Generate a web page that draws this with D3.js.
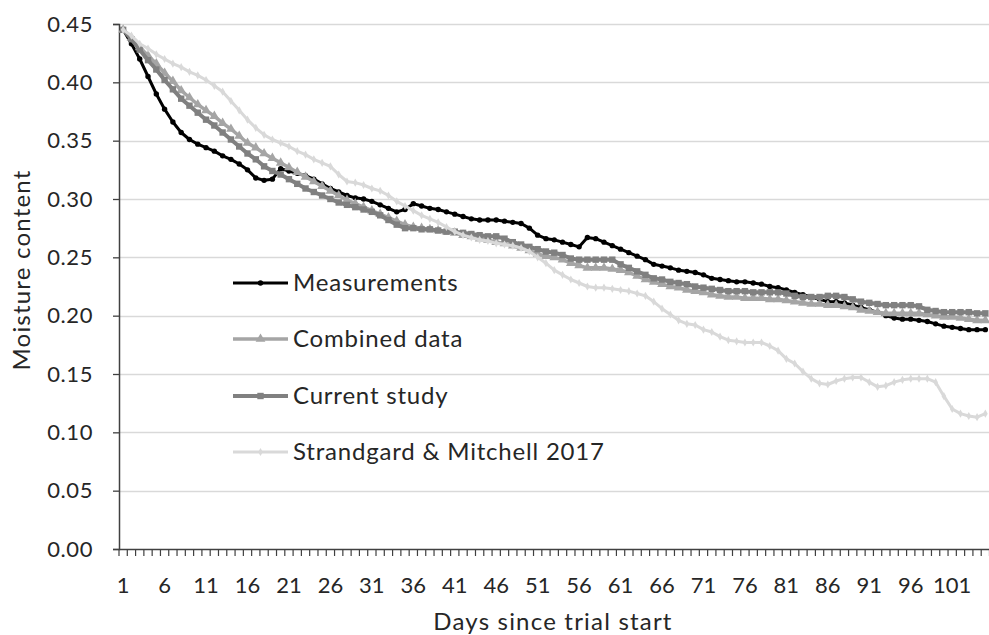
<!DOCTYPE html>
<html>
<head>
<meta charset="utf-8">
<script src="https://cdn.jsdelivr.net/npm/d3@7"></script>
<style>
  html, body { margin: 0; padding: 0; background: #fff; }
  svg text { font-family: Lato, "Open Sans", sans-serif; fill: #262626; }
</style>
</head>
<body>
<svg id="chart" width="989" height="635"></svg>
<script>
// Days since trial start (category axis)
const days = d3.range(1, 106);

const measurements = [
  0.445,0.433,0.420,0.405,0.390,0.377,0.366,0.357,0.351,0.347,
  0.344,0.341,0.337,0.334,0.330,0.325,0.318,0.316,0.317,0.326,
  0.324,0.322,0.320,0.317,0.313,0.309,0.306,0.303,0.301,0.300,
  0.298,0.295,0.292,0.289,0.291,0.296,0.294,0.292,0.291,0.289,
  0.287,0.285,0.283,0.282,0.282,0.282,0.281,0.280,0.279,0.275,
  0.269,0.266,0.265,0.263,0.261,0.259,0.267,0.266,0.263,0.260,
  0.257,0.254,0.251,0.248,0.244,0.2425,0.241,0.239,0.238,0.237,
  0.235,0.232,0.231,0.230,0.229,0.229,0.228,0.227,0.225,0.224,
  0.222,0.220,0.218,0.216,0.214,0.212,0.212,0.211,0.209,0.207,
  0.205,0.203,0.200,0.198,0.197,0.197,0.196,0.195,0.193,0.191,
  0.190,0.189,0.188,0.188,0.188
];

const combinedData = [
  0.445,0.438,0.430,0.423,0.416,0.408,0.401,0.393,0.387,0.381,
  0.376,0.371,0.365,0.360,0.354,0.348,0.344,0.339,0.335,0.331,
  0.327,0.323,0.319,0.315,0.311,0.307,0.303,0.299,0.296,0.293,
  0.290,0.287,0.284,0.281,0.278,0.276,0.275,0.274,0.273,0.272,
  0.271,0.269,0.268,0.266,0.265,0.263,0.262,0.260,0.258,0.256,
  0.253,0.251,0.250,0.248,0.245,0.243,0.241,0.241,0.241,0.240,
  0.239,0.237,0.234,0.231,0.229,0.227,0.225,0.224,0.222,0.221,
  0.220,0.218,0.217,0.216,0.216,0.215,0.215,0.215,0.214,0.214,
  0.213,0.212,0.211,0.210,0.210,0.209,0.209,0.208,0.207,0.205,
  0.204,0.203,0.202,0.202,0.202,0.202,0.202,0.201,0.200,0.199,
  0.199,0.198,0.197,0.196,0.196
];

const currentStudy = [
  0.445,0.437,0.428,0.419,0.411,0.402,0.394,0.386,0.380,0.374,
  0.368,0.363,0.357,0.351,0.345,0.339,0.334,0.328,0.324,0.321,
  0.317,0.313,0.309,0.306,0.303,0.300,0.297,0.295,0.293,0.291,
  0.289,0.286,0.282,0.278,0.275,0.275,0.274,0.274,0.273,0.272,
  0.272,0.271,0.270,0.269,0.268,0.268,0.266,0.263,0.261,0.259,
  0.257,0.255,0.254,0.252,0.249,0.248,0.248,0.248,0.248,0.248,
  0.244,0.241,0.238,0.235,0.232,0.231,0.229,0.228,0.227,0.225,
  0.224,0.223,0.222,0.221,0.221,0.221,0.220,0.220,0.220,0.220,
  0.219,0.217,0.216,0.216,0.216,0.217,0.217,0.216,0.214,0.212,
  0.211,0.210,0.209,0.209,0.209,0.209,0.208,0.205,0.204,0.203,
  0.203,0.203,0.203,0.202,0.202
];

const strandgardMitchell = [
  0.445,0.440,0.433,0.429,0.424,0.420,0.416,0.413,0.409,0.406,
  0.402,0.397,0.392,0.384,0.376,0.368,0.361,0.355,0.351,0.348,
  0.345,0.341,0.338,0.334,0.331,0.328,0.321,0.315,0.314,0.312,
  0.309,0.307,0.303,0.298,0.294,0.290,0.286,0.283,0.280,0.276,
  0.272,0.269,0.267,0.265,0.264,0.262,0.261,0.260,0.258,0.255,
  0.250,0.245,0.239,0.235,0.231,0.228,0.225,0.224,0.224,0.223,
  0.222,0.221,0.219,0.217,0.212,0.206,0.201,0.196,0.193,0.192,
  0.188,0.186,0.182,0.179,0.178,0.177,0.177,0.177,0.174,0.170,
  0.163,0.159,0.152,0.146,0.142,0.141,0.144,0.146,0.147,0.147,
  0.143,0.139,0.140,0.143,0.145,0.146,0.146,0.146,0.143,0.131,
  0.120,0.116,0.114,0.113,0.116
];

const seriesNames = ["Measurements", "Combined data", "Current study", "Strandgard & Mitchell 2017"];
const yTicks = [0, 0.05, 0.10, 0.15, 0.20, 0.25, 0.30, 0.35, 0.40, 0.45];
const xTickLabels = d3.range(1, 106, 5);

const series = [
  { name: seriesNames[0], values: measurements,       color: "#000000", width: 3,   marker: "circle",   msize: 2.4 },
  { name: seriesNames[1], values: combinedData,       color: "#a5a5a5", width: 3.5, marker: "triangle", msize: 3.2 },
  { name: seriesNames[2], values: currentStudy,       color: "#808080", width: 4,   marker: "square",   msize: 3.2 },
  { name: seriesNames[3], values: strandgardMitchell, color: "#d9d9d9", width: 3,   marker: "diamond",  msize: 2.2 }
];

const svg = d3.select("#chart");
const plotLeft = 119, plotRight = 989.5, plotTop = 24, plotBottom = 549;

const x = d3.scaleBand().domain(days).range([plotLeft, plotRight]).paddingInner(0).paddingOuter(0);
const xc = d => x(d) + x.bandwidth() / 2;
const y = d3.scaleLinear().domain([0, 0.45]).range([plotBottom, plotTop]);

// horizontal gridlines
svg.append("g").selectAll("line")
  .data(yTicks.filter(t => t > 0))
  .join("line")
  .attr("x1", plotLeft).attr("x2", 989)
  .attr("y1", d => Math.round(y(d)) + 0.5).attr("y2", d => Math.round(y(d)) + 0.5)
  .attr("stroke", "#d9d9d9").attr("stroke-width", 1.3);

// y axis
const yAxis = svg.append("g")
  .attr("transform", `translate(${plotLeft},0)`)
  .call(d3.axisLeft(y).tickValues(yTicks).tickFormat(d3.format(".2f")).tickSize(6).tickPadding(20));
yAxis.select(".domain").attr("stroke", "#404040").attr("stroke-width", 1.5);
yAxis.selectAll(".tick line").attr("stroke", "#404040").attr("stroke-width", 1.3);
yAxis.selectAll(".tick text").attr("font-size", 22).attr("font-family", "Lato").attr("fill", "#262626")
  .attr("letter-spacing", 0.6);

// x axis: a tick at every category boundary, labels every five days
const xAxisG = svg.append("g").attr("transform", `translate(0,${plotBottom})`);
xAxisG.append("line").attr("x1", plotLeft).attr("x2", 989).attr("y1", 0.5).attr("y2", 0.5)
  .attr("stroke", "#404040").attr("stroke-width", 1.5);
xAxisG.selectAll("line.tk")
  .data(days.concat([106]))
  .join("line").attr("class", "tk")
  .attr("x1", d => d <= 105 ? x(d) : plotRight).attr("x2", d => d <= 105 ? x(d) : plotRight)
  .attr("y1", 0).attr("y2", 7)
  .attr("stroke", "#404040").attr("stroke-width", 1.2);
xAxisG.selectAll("text")
  .data(xTickLabels)
  .join("text")
  .attr("x", d => xc(d)).attr("y", 44)
  .attr("text-anchor", "middle")
  .attr("font-size", 22)
  .text(d => d);

// axis titles
svg.append("text")
  .attr("x", 553).attr("y", 630)
  .attr("text-anchor", "middle").attr("font-size", 24).attr("letter-spacing", 1.2)
  .text("Days since trial start");
svg.append("text")
  .attr("transform", "translate(30,270) rotate(-90)")
  .attr("text-anchor", "middle").attr("font-size", 24).attr("letter-spacing", 1.2)
  .text("Moisture content");

// marker symbols
const symbolFor = m => ({
  circle: d3.symbolCircle, triangle: d3.symbolTriangle,
  square: d3.symbolSquare, diamond: d3.symbolDiamond
})[m];

const line = d3.line().x((v, i) => xc(days[i])).y(v => y(v));

const plot = svg.append("g");
series.forEach(s => {
  const g = plot.append("g");
  g.append("path")
    .attr("d", line(s.values))
    .attr("fill", "none")
    .attr("stroke", s.color)
    .attr("stroke-width", s.width)
    .attr("stroke-linejoin", "round");
  g.selectAll("path.mk")
    .data(s.values)
    .join("path").attr("class", "mk")
    .attr("transform", (v, i) => `translate(${xc(days[i])},${y(v)})`)
    .attr("d", d3.symbol().type(symbolFor(s.marker)).size(Math.pow(s.msize * 2, 2)))
    .attr("fill", s.color);
});

// legend inside the plot area
const legendY = [283, 339, 396, 452];
const legend = svg.append("g");
series.forEach((s, i) => {
  const g = legend.append("g").attr("transform", `translate(0,${legendY[i]})`);
  g.append("line").attr("x1", 233).attr("x2", 288).attr("y1", 0).attr("y2", 0)
    .attr("stroke", s.color).attr("stroke-width", s.width);
  g.append("path")
    .attr("transform", "translate(260.5,0)")
    .attr("d", d3.symbol().type(symbolFor(s.marker)).size(Math.pow(s.msize * 2, 2)))
    .attr("fill", s.color);
  g.append("text").attr("x", 293).attr("y", 8)
    .attr("font-size", 24).attr("letter-spacing", 0.8)
    .text(s.name);
});
</script>
</body>
</html>
